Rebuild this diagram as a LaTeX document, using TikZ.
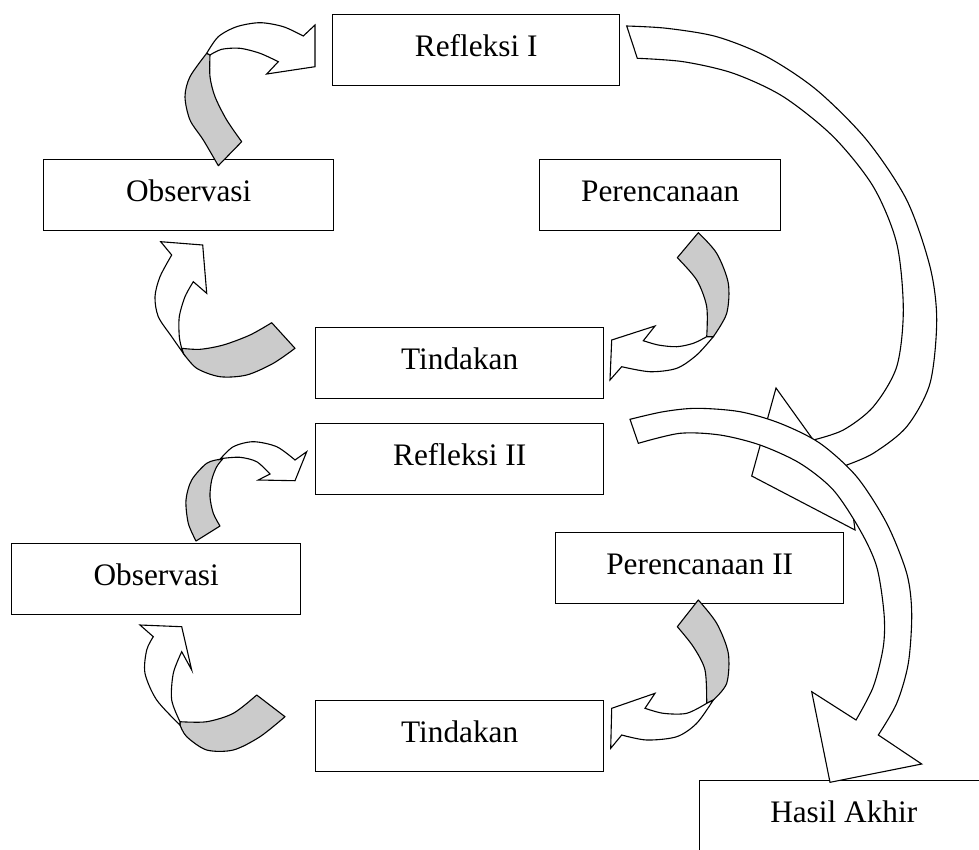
\documentclass[tikz,border=0pt]{standalone}
\usepackage{fontspec}
\setmainfont{Liberation Serif}
\usepackage{xcolor}
\usepackage{tikz}
\definecolor{backgray}{HTML}{CBCBCB}
\tikzset{
  box/.style={rectangle, draw, line width=1.4pt, inner sep=0pt, anchor=north west,
    minimum width=288pt, minimum height=71pt, text height=22pt, text depth=9pt,
    font=\fontsize{31.3}{36}\selectfont},
  arrowback/.style={draw, fill=backgray, line width=1.1pt, line join=round},
  arrowfront/.style={draw, fill=white, line width=1.1pt, line join=miter},
}

\begin{document}
\begin{tikzpicture}[x=1pt, y=-1pt]
  \useasboundingbox (0,0) rectangle (979,849);
  \clip (0,0) rectangle (979,849);

  % first cycle
  \node[box, minimum width=287pt] (refl1) at (332,14) {Refleksi I};
  \node[box, minimum width=290pt] (obs1) at (43,159) {Observasi};
  \node[box, minimum width=241pt] (plan1) at (539,159) {Perencanaan};
  \node[box] (act1) at (315,327) {Tindakan};

  % second cycle
  \node[box] (refl2) at (315,423) {Refleksi II};
  \node[box, minimum width=289pt] (obs2) at (11,543) {Observasi};
  \node[box] (plan2) at (555,532) {Perencanaan II};
  \node[box] (act2) at (315,700) {Tindakan};
  \node[box] (result) at (699,780) {Hasil Akhir};

  % Observasi -> Refleksi I
  \path[arrowback] (218.3,165.7) -- (241.7,141.7)
    -- plot[smooth] coordinates {(241.7,141.7) (226.7,120) (215,96.7) (210,76.7) (210,55)}
    -- (206.7,53.3)
    -- plot[smooth] coordinates {(206.7,53.3) (190,76.7) (185,96.7) (190,120) (203.3,140) (218.3,165.7)} -- cycle;
  \path[arrowfront] (206.7,53.3)
    -- plot[smooth] coordinates {(206.7,53.3) (218.3,36.7) (236.7,26.7) (260,22.7) (283.3,26.7) (303.3,36)}
    -- (315,25) -- (315,66.7) -- (266.7,74) -- (278.3,61.7)
    -- plot[smooth] coordinates {(278.3,61.7) (260,53.3) (240,48.3) (221.7,49.3) (210,55)} -- cycle;

  % Perencanaan -> Tindakan
  \path[arrowback] (698.3,232.7) -- (677.3,257.7)
    -- plot[smooth] coordinates {(677.3,257.7) (696.7,280) (706.7,306.7) (706.7,336.7)}
    -- (713.3,336.7)
    -- plot[smooth] coordinates {(713.3,336.7) (726.7,313.3) (728.3,283.3) (716.7,253.3) (698.3,232.7)} -- cycle;
  \path[arrowfront] (713.3,336.7)
    -- plot[smooth] coordinates {(713.3,336.7) (696.7,355) (676.7,368.3) (650,371.7) (621.7,366.7)}
    -- (610,380) -- (611.7,340) -- (655,326) -- (643.3,340.7)
    -- plot[smooth] coordinates {(643.3,340.7) (658.3,345) (676.7,346.7) (693.3,343.3) (706.7,336.7)} -- cycle;

  % Tindakan -> Observasi
  \path[arrowback] (271.7,322.7) -- (295,348.3)
    -- plot[smooth] coordinates {(295,348.3) (273.3,363.3) (246.7,375) (220,376.7) (196.7,368.3) (183.3,353.3)}
    -- (181.7,348.3)
    -- plot[smooth] coordinates {(181.7,348.3) (200,349.3) (223.3,345) (250,335) (271.7,322.7)} -- cycle;
  \path[arrowfront] (183.3,353.3)
    -- plot[smooth] coordinates {(183.3,353.3) (171.7,336.7) (158.3,316.7) (155,296.7) (160,276.7) (171.7,255)}
    -- (160.7,241.7) -- (202.7,245) -- (206.7,293.3) -- (193.3,281.7)
    -- plot[smooth] coordinates {(193.3,281.7) (185,296.7) (179.3,316.7) (179.3,336.7) (181.7,348.3)} -- cycle;

  % Observasi -> Refleksi II
  \path[arrowback] (196,541) -- (220,526)
    -- plot[smooth] coordinates {(220,526) (213.3,513.3) (210,496.7) (211.7,480) (216.7,466.7) (223.3,458.3)}
    -- (220,459.3)
    -- plot[smooth] coordinates {(220,459.3) (206.7,463.3) (191.7,480) (186,500) (188.3,523.3) (196,541)} -- cycle;
  \path[arrowfront] (220,459.3)
    -- plot[smooth] coordinates {(220,459.3) (233.3,446.7) (253.3,441.7) (276.7,446.7) (295,460)}
    -- (306.7,451.7) -- (295,480.7) -- (258.3,480) -- (270,474)
    -- plot[smooth] coordinates {(270,474) (256.7,461.7) (240,457.3) (223.3,458.3)} -- cycle;

  % Perencanaan II -> Tindakan
  \path[arrowback] (698.3,600) -- (677.3,626.7)
    -- plot[smooth] coordinates {(677.3,626.7) (693.3,646.7) (705,670) (706.7,703.3)}
    -- (713.3,700)
    -- plot[smooth] coordinates {(713.3,700) (726.7,683.3) (728.3,653.3) (716.7,623.3) (698.3,600)} -- cycle;
  \path[arrowfront] (713.3,700)
    -- plot[smooth] coordinates {(713.3,700) (696.7,723.3) (676.7,736.7) (646.7,740) (621.7,735)}
    -- (610.7,748.3) -- (611.7,708.3) -- (655,693.3) -- (645,708.3)
    -- plot[smooth] coordinates {(645,708.3) (663.3,713.3) (686.7,713.3) (706.7,703.3)} -- cycle;

  % Tindakan -> Observasi
  \path[arrowback] (256.7,695) -- (285,716.7)
    -- plot[smooth] coordinates {(285,716.7) (260,736.7) (233.3,750) (206.7,750) (186.7,736.7) (180,725)}
    -- (180,721.7)
    -- plot[smooth] coordinates {(180,721.7) (206.7,721.7) (233.3,713.3) (256.7,695)} -- cycle;
  \path[arrowfront] (180,725)
    -- plot[smooth] coordinates {(180,725) (156.7,700) (145,673.3) (146.7,650) (153.3,636.7)}
    -- (140,625) -- (181.7,626.7) -- (191.7,670) -- (181.7,651.7)
    -- plot[smooth] coordinates {(181.7,651.7) (173.3,673.3) (171.7,700) (180,721.7)} -- cycle;

  % Refleksi I -> Refleksi II (big loop)
  \path[arrowfront] (626.7,26)
    -- plot[smooth] coordinates {(626.7,26) (666.7,28.3) (716.7,36.7) (766.7,56.7) (816.7,90) (866.7,140)
       (906.7,200) (930,266.7) (936.7,320) (930,383.3) (906.7,426.7) (873.3,453.3) (846.7,465)}
    -- (855,530) -- (751.7,476) -- (776,388) -- (813.3,440)
    -- plot[smooth] coordinates {(813.3,440) (843.3,430) (873.3,406.7) (896.7,366.7) (903.3,310)
       (896.7,243.3) (873.3,186.7) (833.3,136.7) (783.3,96.7) (733.3,73.3) (683.3,61.7) (637.3,58.3)}
    -- cycle;

  % Refleksi II -> Hasil Akhir
  \path[arrowfront] (630,419.3)
    -- plot[smooth] coordinates {(630,419.3) (663.3,411.7) (696.7,408.3) (740,411.7) (780,423.3) (820,443.3)
       (856.7,476.7) (886.7,523.3) (906.7,573.3) (911.7,613.3) (908.3,663.3) (896.7,703.3) (878.3,735)}
    -- (921.7,764) -- (830,782.3) -- (811.7,691.7) -- (856,720)
    -- plot[smooth] coordinates {(856,720) (873.3,686.7) (883.3,646.7) (884,613.3) (876.7,566.7) (860,530)
       (833.3,490) (800,463.3) (760,445) (720,435) (680,433.3) (638.3,443.3)}
    -- cycle;
\end{tikzpicture}
\end{document}
